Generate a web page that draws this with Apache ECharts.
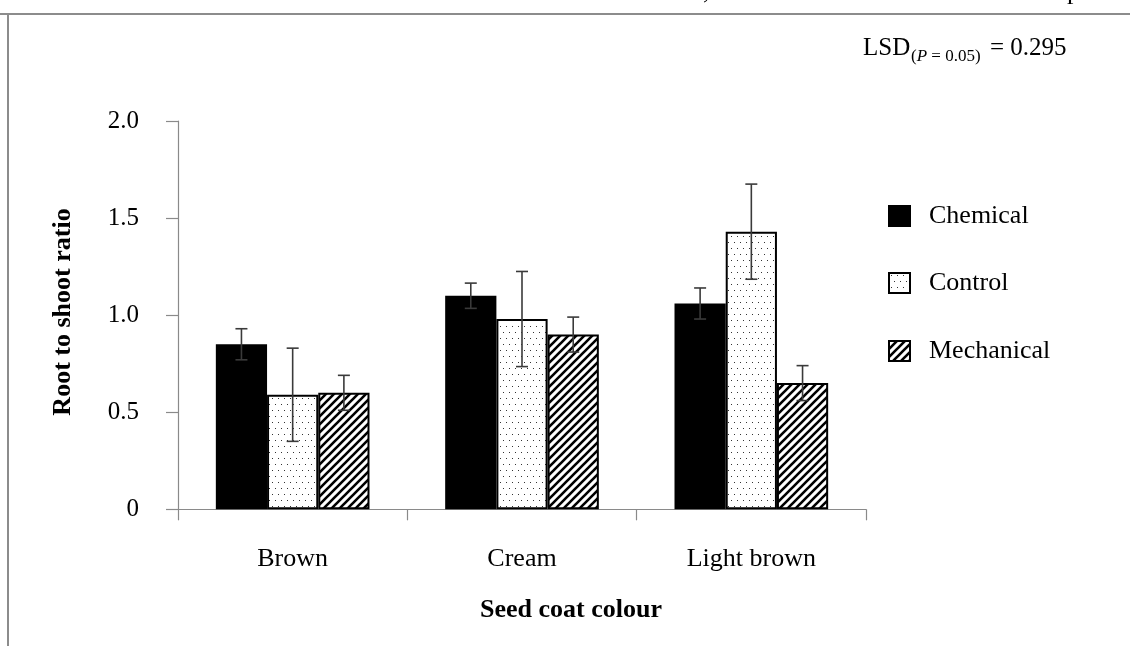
<!DOCTYPE html>
<html>
<head>
<meta charset="utf-8">
<script src="https://cdn.jsdelivr.net/npm/echarts@6/dist/echarts.min.js"></script>
<style>
html,body{margin:0;padding:0;background:#fff;}
#chart{width:1130px;height:646px;}
</style>
</head>
<body>
<div id="chart"></div>
<script>
const categories = ['Brown', 'Cream', 'Light brown'];
const seriesNames = ['Chemical', 'Control', 'Mechanical'];
const chemical = [0.85, 1.10, 1.06];
const control = [0.59, 0.98, 1.43];
const mechanical = [0.60, 0.90, 0.65];
const chemicalErr = [0.08, 0.065, 0.08];
const controlErr = [0.24, 0.245, 0.245];
const mechanicalErr = [0.09, 0.09, 0.09];
const yMin = 0, yMax = 2.0, yInterval = 0.5;

const FONT = '"Liberation Serif", "Times New Roman", serif';
const GAP = 0.33;

function dotPattern() {
  const c = document.createElement('canvas');
  c.width = 12; c.height = 12;
  const g = c.getContext('2d');
  g.fillStyle = '#fff'; g.fillRect(0, 0, 12, 12);
  g.fillStyle = '#333';
  g.fillRect(2, 2, 1, 1); g.fillRect(8, 2, 1, 1);
  g.fillRect(5, 8, 1, 1); g.fillRect(11, 8, 1, 1);
  return c;
}
function hatchPattern() {
  const s = 8;
  const c = document.createElement('canvas');
  c.width = s; c.height = s;
  const g = c.getContext('2d');
  g.fillStyle = '#fff'; g.fillRect(0, 0, s, s);
  g.strokeStyle = '#000'; g.lineWidth = 2.6; g.lineCap = 'square';
  g.beginPath();
  g.moveTo(-2, s + 2); g.lineTo(s + 2, -2);
  g.moveTo(-2, 2); g.lineTo(2, -2);
  g.moveTo(s - 2, s + 2); g.lineTo(s + 2, s - 2);
  g.stroke();
  return c;
}

const fills = ['#000', { image: dotPattern(), repeat: 'repeat' }, { image: hatchPattern(), repeat: 'repeat' }];
const values = [chemical, control, mechanical];
const errs = [chemicalErr, controlErr, mechanicalErr];

const barSeries = seriesNames.map((n, k) => ({
  name: n,
  type: 'bar',
  data: values[k],
  barGap: '0%',
  barCategoryGap: (GAP * 100) + '%',
  itemStyle: { color: fills[k], borderColor: '#000', borderWidth: 2 },
  z: 2
}));

const errSeries = seriesNames.map((n, k) => ({
  name: n + ' err',
  type: 'custom',
  z: 5,
  data: categories.map((c, i) => [i, values[k][i], errs[k][i]]),
  renderItem: function (params, api) {
    const idx = api.value(0), mean = api.value(1), e = api.value(2);
    const band = api.size([1, 0])[0];
    const bw = band * (1 - GAP) / 3;
    const off = (k - 1) * bw;
    const top = api.coord([idx, mean + e]);
    const bot = api.coord([idx, mean - e]);
    const x = top[0] + off;
    const hw = 6;
    const st = { stroke: '#3a3a3a', lineWidth: 1.6 };
    return {
      type: 'group',
      children: [
        { type: 'line', shape: { x1: x, y1: top[1], x2: x, y2: bot[1] }, style: st },
        { type: 'line', shape: { x1: x - hw, y1: top[1], x2: x + hw, y2: top[1] }, style: st },
        { type: 'line', shape: { x1: x - hw, y1: bot[1], x2: x + hw, y2: bot[1] }, style: st }
      ]
    };
  }
}));

const legendTops = [203, 270, 338];
const legends = seriesNames.map((n, k) => ({
  data: [n],
  left: 888,
  top: legendTops[k],
  padding: 0,
  orient: 'vertical',
  icon: 'rect',
  itemWidth: 21,
  itemHeight: 20,
  selectedMode: false,
  textStyle: { fontFamily: FONT, fontSize: 26, color: '#000', lineHeight: 26, padding: [0, 0, 0, 14] }
}));

const chart = echarts.init(document.getElementById('chart'), null, { renderer: 'canvas' });
chart.setOption({
  animation: false,
  backgroundColor: '#fff',
  grid: { left: 178, top: 121, right: 264, bottom: 136.7, containLabel: false },
  legend: legends,
  xAxis: {
    type: 'category',
    data: categories,
    boundaryGap: true,
    axisLine: { lineStyle: { color: '#8a8a8a', width: 1.2 } },
    axisTick: { show: true, length: 11, alignWithLabel: false, lineStyle: { color: '#8a8a8a', width: 1.2 } },
    axisLabel: { fontFamily: FONT, fontSize: 26, color: '#000', margin: 37, interval: 0 },
    splitLine: { show: false }
  },
  yAxis: {
    type: 'value',
    min: yMin, max: yMax, interval: yInterval,
    axisLine: { show: true, lineStyle: { color: '#8a8a8a', width: 1.2 } },
    axisTick: { show: true, length: 12, lineStyle: { color: '#8a8a8a', width: 1.2 } },
    axisLabel: {
      fontFamily: FONT, fontSize: 25, color: '#000', margin: 39,
      formatter: v => (v === 0 ? '0' : v.toFixed(1))
    },
    splitLine: { show: false }
  },
  graphic: [
    { type: 'line', shape: { x1: 0, y1: 14, x2: 1130, y2: 14 }, style: { stroke: '#8c8c8c', lineWidth: 2 }, z: 10 },
    { type: 'line', shape: { x1: 8, y1: 14, x2: 8, y2: 646 }, style: { stroke: '#8c8c8c', lineWidth: 2 }, z: 10 },
    { type: 'text', x: 703, y: -21, style: { text: ',', font: '26px ' + FONT, fill: '#000' } },
    { type: 'text', x: 1067, y: -21, style: { text: 'p', font: '26px ' + FONT, fill: '#000' } },
    {
      type: 'text', x: 63, y: 312, rotation: Math.PI / 2,
      style: { text: 'Root to shoot ratio', font: 'bold 26px ' + FONT, fill: '#000', align: 'center', verticalAlign: 'middle' }
    },
    {
      type: 'text', x: 571, y: 610,
      style: { text: 'Seed coat colour', font: 'bold 26px ' + FONT, fill: '#000', align: 'center', verticalAlign: 'middle' }
    },
    {
      type: 'text', x: 863, y: 48,
      style: { text: 'LSD', font: '25px ' + FONT, fill: '#000', align: 'left', verticalAlign: 'middle' }
    },
    {
      type: 'text', x: 911, y: 57,
      style: {
        text: '{s|(}{i|P}{s| = 0.05)}',
        fill: '#000', align: 'left', verticalAlign: 'middle',
        rich: {
          s: { fontFamily: FONT, fontSize: 17, fill: '#000' },
          i: { fontFamily: FONT, fontSize: 17, fontStyle: 'italic', fill: '#000' }
        }
      }
    },
    {
      type: 'text', x: 990, y: 48,
      style: { text: '= 0.295', font: '25px ' + FONT, fill: '#000', align: 'left', verticalAlign: 'middle' }
    }
  ],
  series: barSeries.concat(errSeries)
});
</script>
</body>
</html>
